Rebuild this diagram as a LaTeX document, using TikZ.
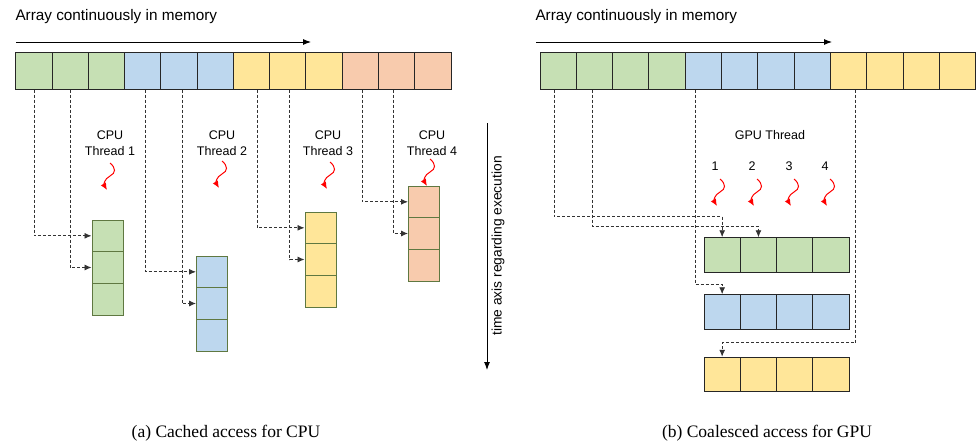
\documentclass[tikz,border=0pt]{standalone}
\usepackage{fontspec}
\setmainfont{Liberation Sans}
\newfontfamily\capfont{Liberation Serif}
\usetikzlibrary{arrows.meta}
\definecolor{cgreen}{RGB}{198,224,180}
\definecolor{cblue}{RGB}{189,215,238}
\definecolor{cyellow}{RGB}{255,230,153}
\definecolor{corange}{RGB}{248,203,173}
\definecolor{coledge}{RGB}{95,120,65}
\tikzset{
  cell/.style={draw=black!85,line width=1pt,inner sep=0pt,minimum width=36.3pt,minimum height=36pt},
  colcell/.style={draw=coledge,line width=1pt,inner sep=0pt,minimum width=31pt,minimum height=31.67pt},
  conn/.style={dash pattern=on 3pt off 2pt,black!80,line width=0.9pt,-{Latex[length=7pt,width=6pt]}},
  lbl/.style={font=\fontsize{12.5}{16}\selectfont,align=center},
  wiggle/.pic={\draw[red,line width=1pt,-{Latex[length=7pt,width=6pt]}] (0,0) .. controls (6,5) and (6,10) .. (0,13) .. controls (-6,16) and (-6,22) .. (-3,27);}
}
\begin{document}
\begin{tikzpicture}
    [x=1pt,y=-1pt]
    \useasboundingbox (0,0) rectangle (977,444);
    %titles and memory direction
    \node[anchor=west,font=\fontsize{15.3}{18}\selectfont] (tl) at (12,17) {Array continuously in memory};
    \node[anchor=west,font=\fontsize{15.3}{18}\selectfont] (tr) at (532,17) {Array continuously in memory};
    \coordinate (al) at (16,42);
    \coordinate (ae) at (311,42);
    \coordinate (bl) at (536,42);
    \coordinate (be) at (832,42);
    \draw[line width=0.9pt,-{Latex[length=8pt,width=6pt]}] (al) -- (ae);
    \draw[line width=0.9pt,-{Latex[length=8pt,width=6pt]}] (bl) -- (be);
    %arrays in memory
    \foreach \i/\c in {1/cgreen,2/cgreen,3/cgreen,4/cblue,5/cblue,6/cblue,7/cyellow,8/cyellow,9/cyellow,10/corange,11/corange,12/corange}
      \node[cell,fill=\c] (L\i) at ({16+36.25*(\i-0.5)},71) {};
    \foreach \i/\c in {1/cgreen,2/cgreen,3/cgreen,4/cgreen,5/cblue,6/cblue,7/cblue,8/cblue,9/cyellow,10/cyellow,11/cyellow,12/cyellow}
      \node[cell,fill=\c] (R\i) at ({540+36.3*(\i-0.5)},71) {};
    %cpu threads
    \node[lbl] (t1) at (110,143) {CPU\\Thread 1};
    \node[lbl] (t2) at (222,143) {CPU\\Thread 2};
    \node[lbl] (t3) at (328,143) {CPU\\Thread 3};
    \node[lbl] (t4) at (432,143) {CPU\\Thread 4};
    \pic at (110,163) {wiggle};
    \pic at (222,161) {wiggle};
    \pic at (330,162) {wiggle};
    \pic at (430,159) {wiggle};
    %cpu columns
    \foreach \k/\x/\y/\c in {a/107.5/220/cgreen,b/212/256/cblue,c/320.5/212/cyellow,d/424/186/corange}
      \foreach \j in {1,2,3}
        \node[colcell,fill=\c] (C\k\j) at (\x,{\y+31.67*(\j-0.5)}) {};
    \draw[conn] (L1.south) |- (Ca1.west);
    \draw[conn] (L2.south) |- (Ca2.west);
    \draw[conn] ([xshift=3pt]L4.south) |- (Cb1.west);
    \draw[conn] ([xshift=3pt]L5.south) |- (Cb2.west);
    \draw[conn] ([xshift=6pt]L7.south) |- (Cc1.west);
    \draw[conn] ([xshift=2pt]L8.south) |- (Cc2.west);
    \draw[conn] ([xshift=2pt]L10.south) |- (Cd1.west);
    \draw[conn] ([xshift=-3pt]L11.south) |- (Cd2.west);
    %time axis
    \coordinate (ta) at (487,123);
    \coordinate (tb) at (487,370);
    \draw[line width=0.9pt,-{Latex[length=8pt,width=6pt]}] (ta) -- (tb);
    \node[rotate=90,font=\fontsize{13.8}{16}\selectfont] (tax) at (498,246) {time axis regarding execution};
    %gpu threads
    \node[lbl] (gt) at (770,135) {GPU Thread};
    \node[lbl] (n1) at (715,166) {1};
    \node[lbl] (n2) at (752,166) {2};
    \node[lbl] (n3) at (789,166) {3};
    \node[lbl] (n4) at (825,166) {4};
    \pic at (720,179) {wiggle};
    \pic at (757,179) {wiggle};
    \pic at (794,179) {wiggle};
    \pic at (830,179) {wiggle};
    %gpu rows
    \foreach \k/\y/\c in {a/255/cgreen,b/312/cblue,c/374.5/cyellow}
      \foreach \j in {1,2,3,4}
        \node[cell,fill=\c,minimum height=34.5pt] (G\k\j) at ({704+36.3*(\j-0.5)},\y) {};
    \draw[conn] ([xshift=-4pt]R1.south) |- ([yshift=21pt]Ga1.north) -- (Ga1.north);
    \draw[conn] ([xshift=-2pt]R2.south) |- ([yshift=11pt]Ga2.north) -- (Ga2.north);
    \draw[conn] ([xshift=-8pt]R5.south) |- ([yshift=10pt]Gb1.north) -- (Gb1.north);
    \draw[conn] ([xshift=7pt]R9.south) |- ([yshift=14pt]Gc1.north) -- (Gc1.north);
    %captions
    \node[font=\capfont\fontsize{17.5}{20}\selectfont] (capa) at (226,433) {(a) Cached access for CPU};
    \node[font=\capfont\fontsize{17.5}{20}\selectfont] (capb) at (767,433) {(b) Coalesced access for GPU};
\end{tikzpicture}
\end{document}
